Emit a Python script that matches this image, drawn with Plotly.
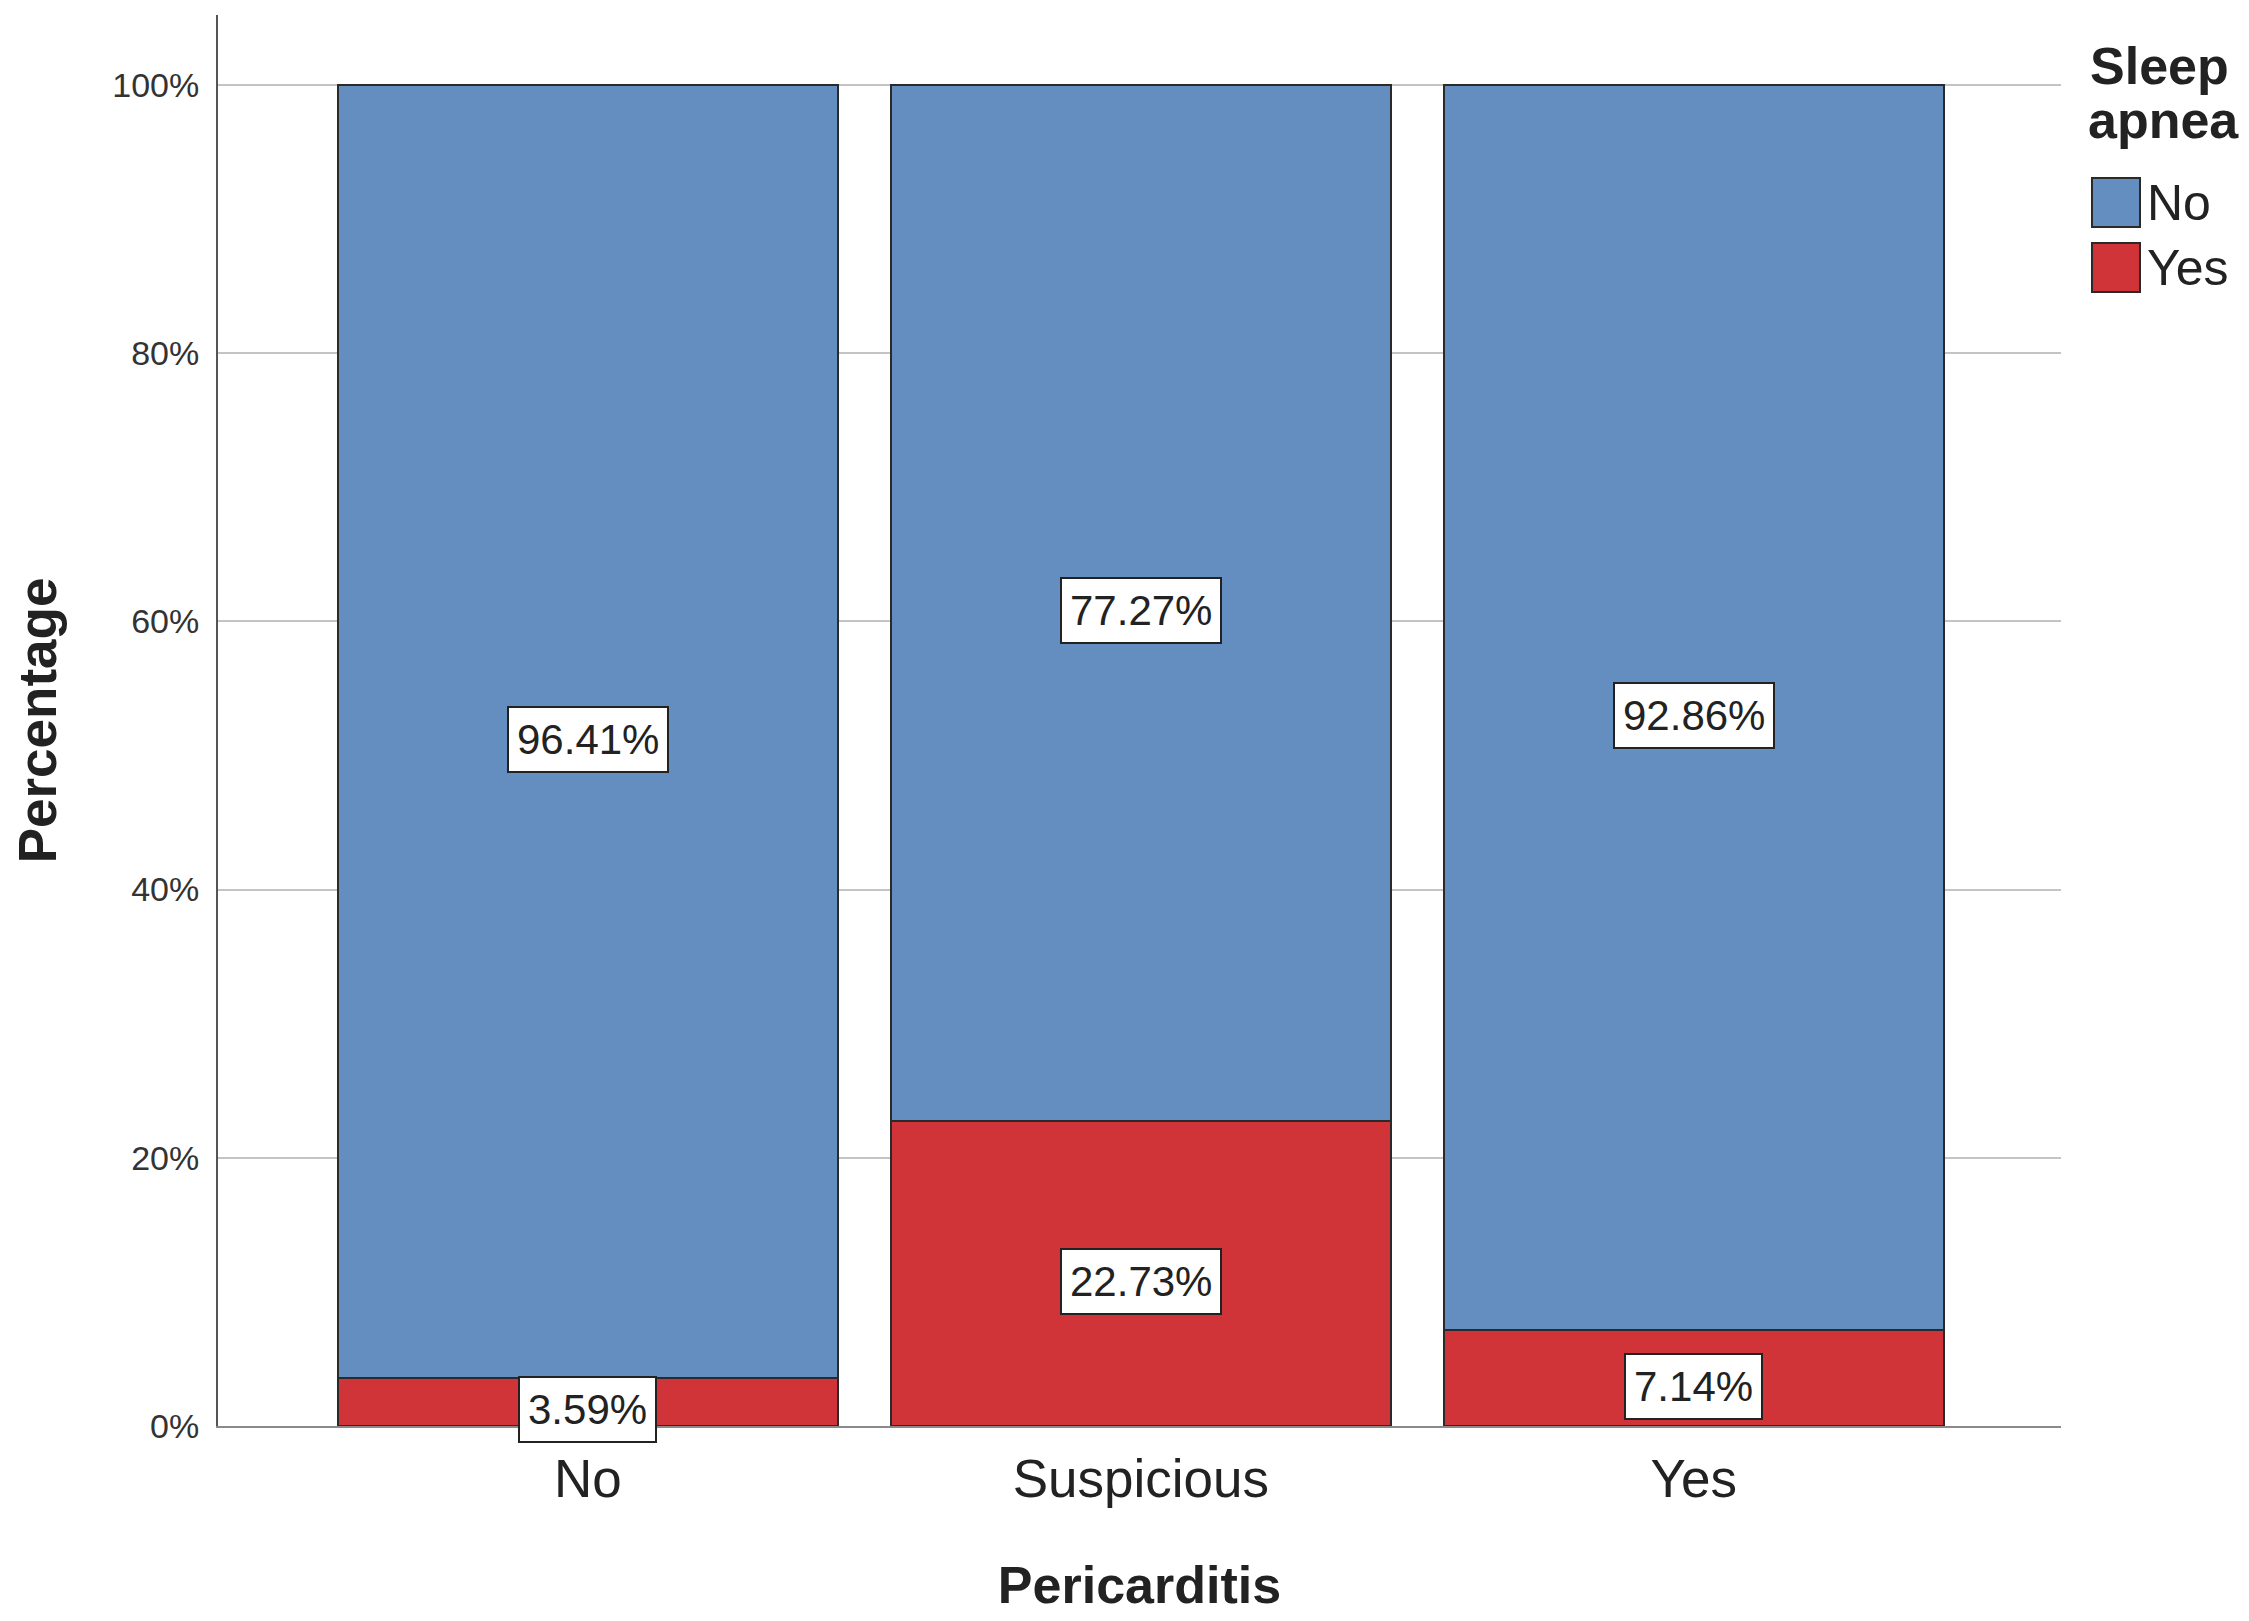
import plotly.graph_objects as go

categories = ["No", "Suspicious", "Yes"]
series_names = ["No", "Yes"]
pct_no = [96.41, 77.27, 92.86]
pct_yes = [3.59, 22.73, 7.14]
y_ticks = [0, 20, 40, 60, 80, 100]
y_tick_text = [f"{v}%" for v in y_ticks]

BLUE = "#638EBF"
RED = "#D03338"
FONT = "Liberation Sans, Arial, sans-serif"

# page body adds an 8px offset, so the figure is 8px smaller than the window
W, H = 2241, 1613
L, R, T, B = 210, 188, 7, 195
PW, PH = W - L - R, H - T - B


def px_x(x):
    # window pixel -> paper x
    return (x - 8 - L) / PW


def px_y(y):
    # window pixel -> paper y
    return (H - B + 8 - y) / PH


fig = go.Figure()

fig.add_trace(go.Bar(
    x=categories, y=pct_yes, name=series_names[1],
    marker=dict(color=RED, line=dict(color="#2a2a2a", width=2)),
    width=0.904, showlegend=False
))
fig.add_trace(go.Bar(
    x=categories, y=pct_no, name=series_names[0],
    marker=dict(color=BLUE, line=dict(color="#2a2a2a", width=2)),
    width=0.904, showlegend=False
))

# value labels centred in each segment (sitting a touch low, like the original)
for cat, yes, no in zip(categories, pct_yes, pct_no):
    for val, base in [(yes, 0), (no, yes)]:
        fig.add_annotation(
            x=cat, y=base + val / 2, text=f"{val:.2f}%",
            showarrow=False, yshift=-8,
            font=dict(family=FONT, size=42, color="#222222"),
            bgcolor="white", bordercolor="#222222",
            borderwidth=2, borderpad=8
        )

# legend drawn by hand so the swatches can be large
fig.add_annotation(
    xref="paper", yref="paper", x=px_x(2088), y=px_y(66),
    text="<b>Sleep</b>", showarrow=False, xanchor="left", yanchor="middle",
    font=dict(family=FONT, size=52, color="#222222")
)
fig.add_annotation(
    xref="paper", yref="paper", x=px_x(2086), y=px_y(120),
    text="<b>apnea</b>", showarrow=False, xanchor="left", yanchor="middle",
    font=dict(family=FONT, size=52, color="#222222")
)
for i, (name, color) in enumerate(zip(series_names, [BLUE, RED])):
    top = 178 + i * 65
    fig.add_shape(
        type="rect", xref="paper", yref="paper",
        x0=px_x(2092), x1=px_x(2140),
        y0=px_y(top), y1=px_y(top + 49),
        fillcolor=color, line=dict(color="#2a2a2a", width=2)
    )
    fig.add_annotation(
        xref="paper", yref="paper", x=px_x(2145),
        y=px_y(top + 25),
        text=name, showarrow=False, xanchor="left", yanchor="middle",
        font=dict(family=FONT, size=50, color="#222222")
    )

fig.update_layout(
    width=W,
    height=H,
    barmode="stack",
    paper_bgcolor="white",
    plot_bgcolor="white",
    font=dict(family=FONT, color="#222222"),
    margin=dict(l=L, r=R, t=T, b=B),
    showlegend=False,
    xaxis=dict(
        range=[-0.669, 2.664],
        showline=True, linecolor="#8a8a8a", linewidth=2,
        showgrid=False, ticks="",
        ticklabelstandoff=5,
        tickfont=dict(size=53, color="#222222"),
        title=dict(text="<b>Pericarditis</b>", standoff=60,
                   font=dict(size=52, color="#222222"))
    ),
    yaxis=dict(
        range=[0, 105.2],
        tickvals=y_ticks, ticktext=y_tick_text,
        showline=True, linecolor="#555555", linewidth=2,
        showgrid=True, gridcolor="#c4c4c4", gridwidth=2,
        zeroline=False, ticks="",
        ticklabelstandoff=10,
        tickfont=dict(size=34, color="#333333"),
        title=dict(text="<b>Percentage</b>", standoff=42,
                   font=dict(size=53, color="#222222"))
    )
)

fig.write_html("out.html")
